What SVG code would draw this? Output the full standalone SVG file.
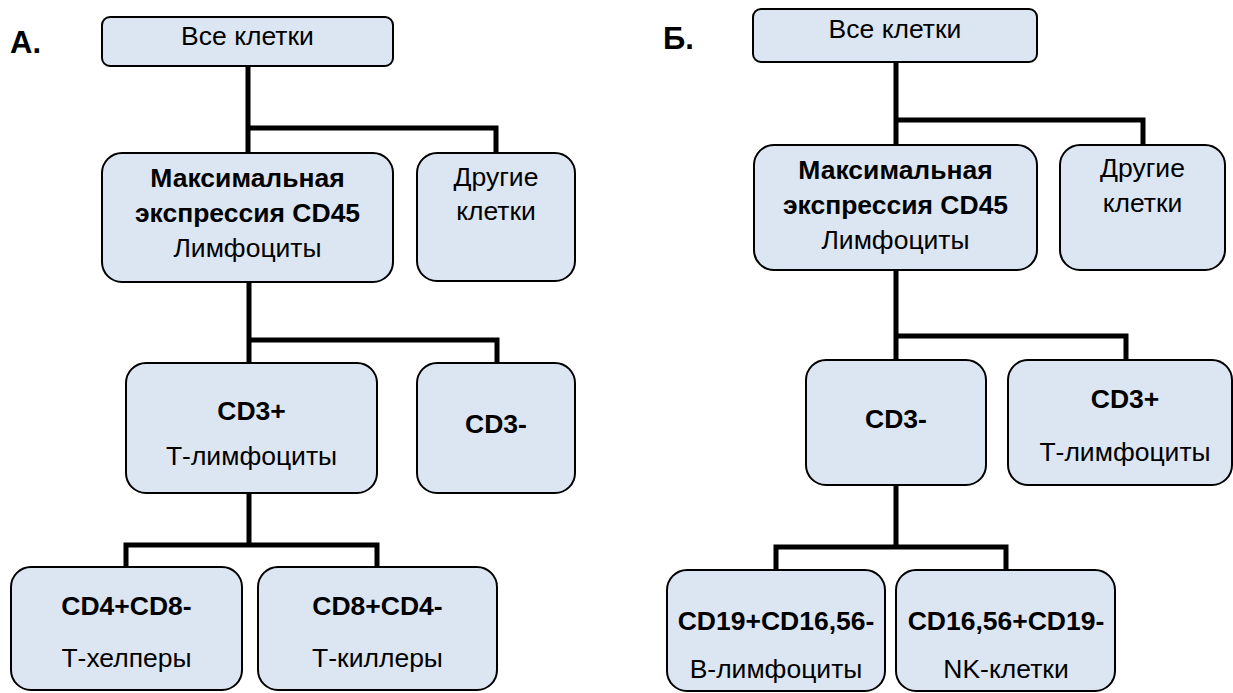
<svg xmlns="http://www.w3.org/2000/svg" width="1233" height="693" viewBox="0 0 1233 693">
<style>
  .box { fill: #dce6f2; stroke: #000; stroke-width: 2; }
  .t { font-family: "Liberation Sans", Arial, sans-serif; font-size: 26.5px; fill: #000; text-anchor: middle; }
  .b { font-weight: bold; }
  .lbl { font-family: "Liberation Sans", Arial, sans-serif; font-size: 31px; font-weight: bold; fill: #000; }
  .conn { fill: none; stroke: #000; stroke-width: 5; stroke-linejoin: miter; stroke-linecap: butt; }
</style>
<rect width="1233" height="693" fill="#fff"/>
<text class="lbl" x="10" y="53">А.</text>
<text class="lbl" x="663" y="49">Б.</text>

<g id="connectors">
  <path class="conn" d="M248,66 V153 M248,128 H496 V153"/>
  <path class="conn" d="M249,282 V363 M249,340 H497 V363"/>
  <path class="conn" d="M249,493 V545 M126,567 V545 H377 V567"/>
  <path class="conn" d="M896,62 V145 M896,120 H1143 V145"/>
  <path class="conn" d="M896,270 V360 M896,336 H1126 V360"/>
  <path class="conn" d="M896,485 V547 M776,570 V547 H1006 V570"/>
</g>

<g id="a-all">
  <rect class="box" x="102" y="17" width="291" height="49" rx="8"/>
  <text class="t" x="247.5" y="45">Все клетки</text>
</g>
<g id="a-lymph">
  <rect class="box" x="102" y="153" width="291" height="129" rx="20"/>
  <text class="t b" x="247.5" y="187">Максимальная</text>
  <text class="t b" x="247.5" y="222">экспрессия CD45</text>
  <text class="t" x="247.5" y="257">Лимфоциты</text>
</g>
<g id="a-other">
  <rect class="box" x="417" y="153" width="158" height="128" rx="20"/>
  <text class="t" x="496" y="186">Другие</text>
  <text class="t" x="496" y="220">клетки</text>
</g>
<g id="a-cd3p">
  <rect class="box" x="126" y="363" width="251" height="130" rx="20"/>
  <text class="t b" x="251.5" y="420">CD3+</text>
  <text class="t" x="251.5" y="465">Т-лимфоциты</text>
</g>
<g id="a-cd3m">
  <rect class="box" x="417" y="363" width="158" height="130" rx="20"/>
  <text class="t b" x="496" y="433">CD3-</text>
</g>
<g id="a-cd4">
  <rect class="box" x="11" y="567" width="231" height="123" rx="20"/>
  <text class="t b" x="126.5" y="615">CD4+CD8-</text>
  <text class="t" x="126.5" y="667">Т-хелперы</text>
</g>
<g id="a-cd8">
  <rect class="box" x="258" y="567" width="239" height="123" rx="20"/>
  <text class="t b" x="377.5" y="615">CD8+CD4-</text>
  <text class="t" x="377.5" y="667">Т-киллеры</text>
</g>

<g id="b-all">
  <rect class="box" x="753" y="9" width="284" height="53" rx="8"/>
  <text class="t" x="895" y="38">Все клетки</text>
</g>
<g id="b-lymph">
  <rect class="box" x="754" y="145" width="283" height="125" rx="20"/>
  <text class="t b" x="895.5" y="179">Максимальная</text>
  <text class="t b" x="895.5" y="214">экспрессия CD45</text>
  <text class="t" x="895.5" y="249">Лимфоциты</text>
</g>
<g id="b-other">
  <rect class="box" x="1060" y="145" width="165" height="125" rx="20"/>
  <text class="t" x="1142.5" y="177">Другие</text>
  <text class="t" x="1142.5" y="212">клетки</text>
</g>
<g id="b-cd3m">
  <rect class="box" x="806" y="360" width="180" height="125" rx="20"/>
  <text class="t b" x="896" y="428">CD3-</text>
</g>
<g id="b-cd3p">
  <rect class="box" x="1008" y="360" width="224" height="125" rx="20"/>
  <text class="t b" x="1125" y="408">CD3+</text>
  <text class="t" x="1125" y="461">Т-лимфоциты</text>
</g>
<g id="b-cd19">
  <rect class="box" x="667" y="570" width="218" height="121" rx="20"/>
  <text class="t b" x="776" y="630">CD19+CD16,56-</text>
  <text class="t" x="776" y="678">В-лимфоциты</text>
</g>
<g id="b-nk">
  <rect class="box" x="896" y="570" width="219" height="121" rx="20"/>
  <text class="t b" x="1006" y="630">CD16,56+CD19-</text>
  <text class="t" x="1006" y="678">NK-клетки</text>
</g>
</svg>
